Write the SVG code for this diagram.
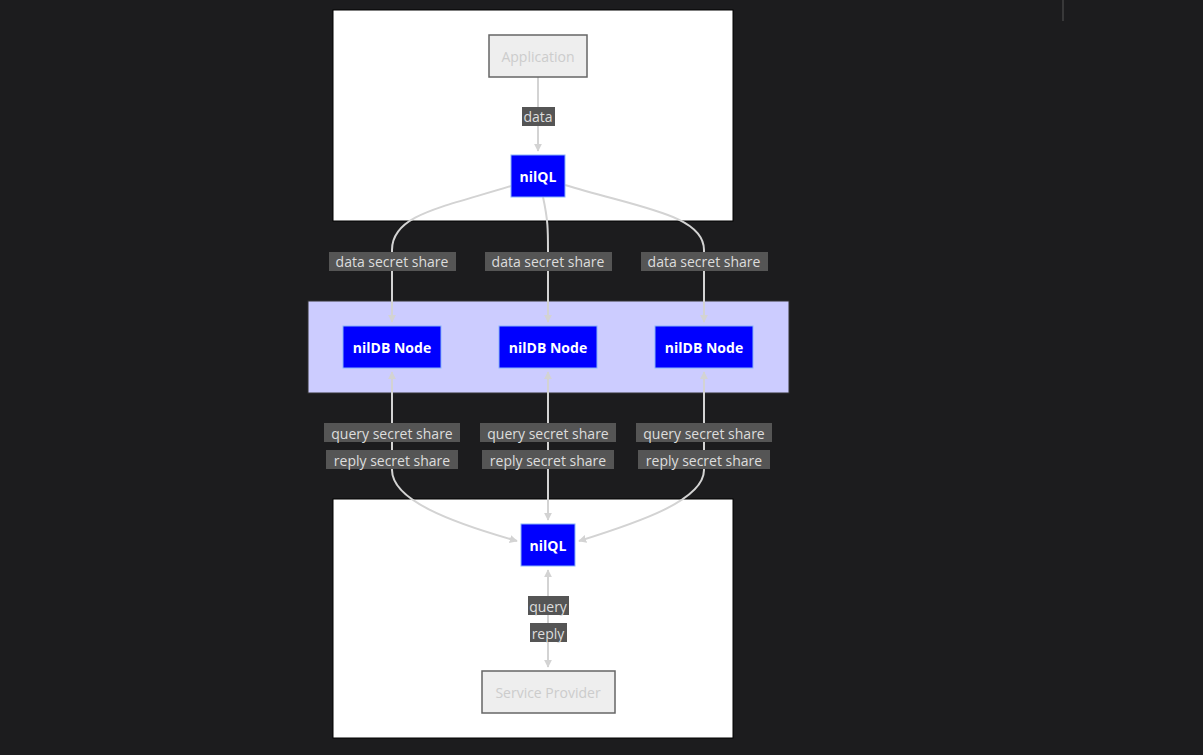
<svg xmlns="http://www.w3.org/2000/svg" width="1203" height="755" viewBox="0 0 1203 755">
<defs>
<marker id="ah" viewBox="0 0 10 10" refX="9" refY="5" markerWidth="8" markerHeight="8" orient="auto-start-reverse" markerUnits="userSpaceOnUse"><path d="M0,0 L10,5 L0,10 z" fill="#d3d3d3"/></marker>
<style>
text{font-family:"Open Sans","DejaVu Sans",sans-serif;font-size:14px;text-anchor:middle;dominant-baseline:central}
.cl{fill:#fff;stroke:#000}
.b{fill:#0000ff;stroke:#8ab4f8;stroke-width:1}
.b+text{fill:#fff;font-weight:bold}
.g{fill:#eee;stroke:#666;stroke-width:1.5}
.gt{fill:#ccc}
.e{fill:none;stroke:#d3d3d3;stroke-width:2}
.lb{fill:#555}
.lt{fill:#ddd}
</style>
</defs>
<rect width="1203" height="755" fill="#1c1c1e"/>
<line x1="1063" y1="0" x2="1063" y2="21" stroke="#555"/>
<rect class="cl" x="333" y="10" width="400" height="211"/>
<rect x="308" y="301" width="481" height="92" fill="#ccf" stroke="#333"/>
<rect class="cl" x="333" y="499" width="400" height="239"/>
<g id="connectors">
<path class="e" d="M538,77 L538,151" marker-end="url(#ah)"/>
<path class="e" d="M511,186 C440,208 392,215 392,250 L392,322" marker-end="url(#ah)"/>
<path class="e" d="M543,197 C548,220 548,230 548,250 L548,322" marker-end="url(#ah)"/>
<path class="e" d="M565,185 C640,208 704,215 704,250 L704,322" marker-end="url(#ah)"/>
<path class="e" d="M392,372 L392,470 C392,500 450,522 517,541" marker-start="url(#ah)" marker-end="url(#ah)"/>
<path class="e" d="M548,372 L548,520" marker-start="url(#ah)" marker-end="url(#ah)"/>
<path class="e" d="M704,372 L704,470 C704,500 640,522 579,541" marker-start="url(#ah)" marker-end="url(#ah)"/>
<path class="e" d="M548,570 L548,667" marker-start="url(#ah)" marker-end="url(#ah)"/>
<rect class="lb" x="522" y="107" width="33" height="19"/><text class="lt" x="538" y="116">data</text>
<rect class="lb" x="329" y="252" width="127" height="19"/><text class="lt" x="392" y="261">data secret share</text>
<rect class="lb" x="485" y="252" width="127" height="19"/><text class="lt" x="548" y="261">data secret share</text>
<rect class="lb" x="641" y="252" width="127" height="19"/><text class="lt" x="704" y="261">data secret share</text>
<rect class="lb" x="324" y="423" width="136" height="19"/><text class="lt" x="392" y="433">query secret share</text>
<rect class="lb" x="480" y="423" width="136" height="19"/><text class="lt" x="548" y="433">query secret share</text>
<rect class="lb" x="636" y="423" width="136" height="19"/><text class="lt" x="704" y="433">query secret share</text>
<rect class="lb" x="326" y="450" width="132" height="19"/><text class="lt" x="392" y="460">reply secret share</text>
<rect class="lb" x="482" y="450" width="132" height="19"/><text class="lt" x="548" y="460">reply secret share</text>
<rect class="lb" x="638" y="450" width="132" height="19"/><text class="lt" x="704" y="460">reply secret share</text>
<rect class="lb" x="528" y="596" width="41" height="19"/><text class="lt" x="548" y="606">query</text>
<rect class="lb" x="530" y="623" width="37" height="19"/><text class="lt" x="548" y="633">reply</text>
</g>
<g id="app"><rect class="g" x="489" y="35" width="98" height="42"/><text class="gt" x="538" y="56">Application</text></g>
<g id="nilql1"><rect class="b" x="511" y="155" width="54" height="42"/><text x="538" y="176">nilQL</text></g>
<g id="db1"><rect class="b" x="343" y="326" width="98" height="42"/><text x="392" y="347">nilDB Node</text></g>
<g id="db2"><rect class="b" x="499" y="326" width="98" height="42"/><text x="548" y="347">nilDB Node</text></g>
<g id="db3"><rect class="b" x="655" y="326" width="98" height="42"/><text x="704" y="347">nilDB Node</text></g>
<g id="nilql2"><rect class="b" x="521" y="524" width="54" height="42"/><text x="548" y="545">nilQL</text></g>
<g id="sp"><rect class="g" x="482" y="671" width="133" height="42"/><text class="gt" x="548" y="692">Service Provider</text></g>
</svg>
